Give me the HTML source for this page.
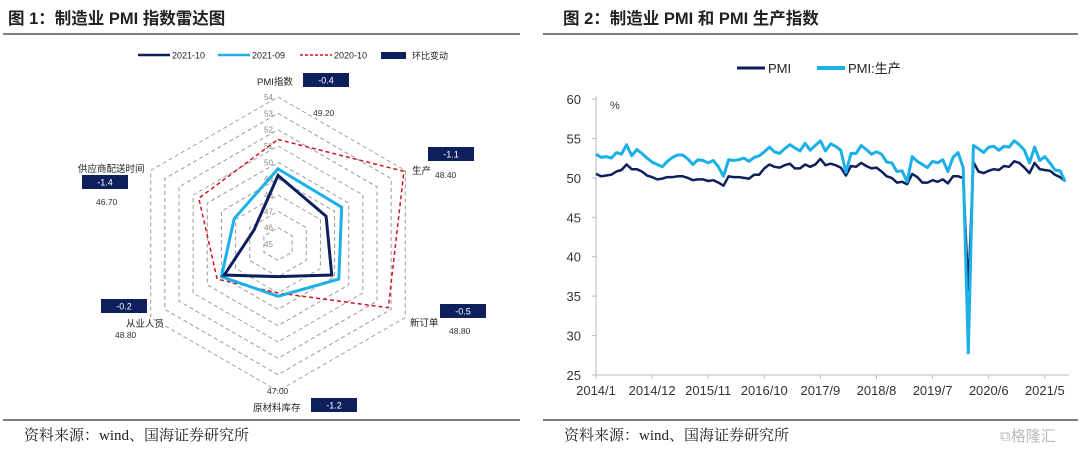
<!DOCTYPE html>
<html><head><meta charset="utf-8">
<style>
html,body{margin:0;padding:0;background:#fff;}
svg{display:block;}
text{font-family:"Liberation Sans","Noto Sans CJK SC",sans-serif;}
.ttl{font-family:"Liberation Sans","Noto Sans CJK SC",sans-serif;font-weight:bold;font-size:16.5px;fill:#222;}
.src{font-family:"Liberation Serif","Noto Serif CJK SC",serif;font-size:15px;fill:#222;}
</style></head><body>
<svg id="s" width="1080" height="450" viewBox="0 0 1080 450" xmlns="http://www.w3.org/2000/svg">
<text x="8" y="24" class="ttl">图 1：制造业 PMI 指数雷达图</text>
<text x="563" y="24" class="ttl">图 2：制造业 PMI 和 PMI 生产指数</text>
<line x1="3" y1="34" x2="520" y2="34" stroke="#333" stroke-width="1.2"/>
<line x1="543" y1="34" x2="1078" y2="34" stroke="#333" stroke-width="1.2"/>
<line x1="3" y1="420" x2="520" y2="420" stroke="#333" stroke-width="1.2"/>
<line x1="543" y1="420" x2="1078" y2="420" stroke="#333" stroke-width="1.2"/>
<text x="24" y="440" class="src">资料来源：wind、国海证券研究所</text>
<text x="564" y="440" class="src">资料来源：wind、国海证券研究所</text>
<text x="1000" y="441" font-size="15" fill="#bbb">⧉格隆汇</text>
<g id="radar"></g>
<g id="line"></g>
</svg>
<script>
// ---------- Radar data ----------
const radarAxes = ["PMI指数","生产","新订单","原材料库存","从业人员","供应商配送时间"];
const radarOct21 = [49.2,48.4,48.8,47.0,48.8,46.7];
const radarSep21 = [49.6,49.5,49.3,48.2,49.0,48.1];
const radarOct20 = [51.4,53.9,52.8,48.0,49.3,50.6];
const radarChange = ["-0.4","-1.1","-0.5","-1.2","-0.2","-1.4"];
const radarValueLabels = ["49.20","48.40","48.80","47.00","48.80","46.70"];
const radarTicks = [45,46,47,48,49,50,51,52,53,54];

// ---------- Line data ----------
const lineTicks = ["2014/1","2014/12","2015/11","2016/10","2017/9","2018/8","2019/7","2020/6","2021/5"];
const yTicks = [25,30,35,40,45,50,55,60];
const pmi = [50.5,50.2,50.3,50.4,50.8,51.0,51.7,51.1,51.1,50.8,50.3,50.1,
49.8,49.9,50.1,50.1,50.2,50.2,50.0,49.7,49.8,49.8,49.6,49.7,
49.4,49.0,50.2,50.1,50.1,50.0,49.9,50.4,50.4,51.2,51.7,51.4,
51.3,51.6,51.8,51.2,51.2,51.7,51.4,51.7,52.4,51.6,51.8,51.6,
51.3,50.3,51.5,51.4,51.9,51.5,51.2,51.3,50.8,50.2,50.0,49.4,
49.5,49.2,50.5,50.1,49.4,49.4,49.7,49.5,49.8,49.3,50.2,50.2,
50.0,35.7,52.0,50.8,50.6,50.9,51.1,51.0,51.5,51.4,52.1,51.9,
51.3,50.6,51.9,51.1,51.0,50.9,50.4,50.1,49.6];
const production = [53.0,52.6,52.7,52.5,53.2,53.0,54.2,52.8,53.6,53.1,52.5,52.0,
51.7,51.4,52.1,52.6,52.9,52.9,52.4,51.7,52.3,52.2,51.9,52.2,
51.4,50.2,52.3,52.2,52.3,52.5,52.1,52.6,52.8,53.3,53.9,53.3,
53.1,53.7,54.2,53.8,53.4,54.4,53.5,54.1,54.7,53.4,54.3,54.0,
53.5,50.7,53.1,53.1,54.1,53.6,53.0,53.3,53.0,52.0,51.9,50.8,
50.9,49.5,52.7,52.1,51.7,51.3,52.1,51.9,52.3,50.8,52.6,53.2,
51.3,27.8,54.1,53.7,53.2,53.9,54.0,53.5,54.0,53.9,54.7,54.2,
53.5,51.9,53.9,52.2,52.7,51.9,51.0,50.9,49.5];

const NS="http://www.w3.org/2000/svg";
function mk(tag,attrs,parent,txt){const e=document.createElementNS(NS,tag);for(const k in attrs)e.setAttribute(k,attrs[k]);if(txt!==undefined)e.textContent=txt;parent.appendChild(e);return e;}

// ---------- Radar ----------
const R=document.getElementById('radar');
const cx=278, cy=244, rmin=45, rmax=54, rpx=147;
function rr(v){return (v-rmin)/(rmax-rmin)*rpx;}
function ang(i){return (-90+60*i)*Math.PI/180;}
function pt(i,v){const r=rr(v);return [cx+r*Math.cos(ang(i)),cy+r*Math.sin(ang(i))];}
radarTicks.forEach(t=>{
  if(t===rmin)return;
  const p=radarAxes.map((_,i)=>pt(i,t).join(',')).join(' ');
  const g=mk('polygon',{points:p,fill:'none',stroke:'#9a9a9a','stroke-width':1,'stroke-dasharray':'4,3'},R);
  
  
});
radarTicks.forEach(t=>{
  const y=cy-rr(t);
  const tx=mk('text',{x:cx-14,y:y+3,'font-size':8,fill:'#888'},R,String(t));
  
  
});
function series(vals,color,w,dash,name){
  const p=vals.map((v,i)=>pt(i,v).join(',')).join(' ');
  const a={points:p,fill:'none',stroke:color,'stroke-width':w,'stroke-linejoin':'miter'};
  if(dash)a['stroke-dasharray']=dash;
  const e=mk('polygon',a,R);
  
  
}
series(radarOct20,'#d0161c',1.5,'4,3','series-2020-10');
series(radarSep21,'#1cb0e8',3,null,'series-2021-09');
series(radarOct21,'#0d1f5c',3,null,'series-2021-10');
const lblPos=[[257,85],[412,174],[410,326],[253,411],[126,327],[78,172]];
const boxPos=[[303,73],[428,147],[440,304],[311,398],[101,299],[82,175]];
const valPos=[[313,116],[435,178],[449,334],[267,394],[115,338],[96,205]];
radarAxes.forEach((a,i)=>{
  const t=mk('text',{x:lblPos[i][0],y:lblPos[i][1],'font-size':9.5,fill:'#222'},R,a);
  
  
  const b=mk('rect',{x:boxPos[i][0],y:boxPos[i][1],width:46,height:14,fill:'#0d1f5c'},R);
  
  
  const bt=mk('text',{x:boxPos[i][0]+23,y:boxPos[i][1]+10.5,'font-size':9,fill:'#fff','text-anchor':'middle'},R,radarChange[i]);
  
  
  const vt=mk('text',{x:valPos[i][0],y:valPos[i][1],'font-size':8.5,fill:'#333'},R,radarValueLabels[i]);
  
  
});
const lg=[[138,'#0d1f5c',null,'2021-10'],[218,'#1cb0e8',null,'2021-09'],[300,'#d0161c','3,2','2020-10']];
lg.forEach(l=>{
  const a={x1:l[0],y1:55,x2:l[0]+32,y2:55,stroke:l[1],'stroke-width':l[2]?1.5:2.5};
  if(l[2])a['stroke-dasharray']=l[2];
  const ln=mk('line',a,R);
  
  
  const t=mk('text',{x:l[0]+34,y:58.5,'font-size':9,fill:'#222'},R,l[3]);
  
  
});
const lb=mk('rect',{x:381,y:52,width:25,height:7,fill:'#0d1f5c'},R);


const lbt=mk('text',{x:412,y:59,'font-size':9,fill:'#222'},R,'环比变动');



// ---------- Line chart ----------
const L=document.getElementById('line');
const x0=596, dx=5.1, yTop=99, yBot=375, vMin=25, vMax=60;
function X(i){return x0+i*dx;}
function Y(v){return yBot-(v-vMin)/(vMax-vMin)*(yBot-yTop);}
const ax=mk('line',{x1:x0,y1:yTop-3,x2:x0,y2:yBot,stroke:'#bbb','stroke-width':1},L);


const bx=mk('line',{x1:x0,y1:yBot,x2:1069,y2:yBot,stroke:'#bbb','stroke-width':1},L);


yTicks.forEach(t=>{
  const tk=mk('line',{x1:x0-4,y1:Y(t),x2:x0,y2:Y(t),stroke:'#bbb'},L);
  
  
  const tt=mk('text',{x:x0-15,y:Y(t)+5,'font-size':13,fill:'#333','text-anchor':'end'},L,String(t));
  
  
});
lineTicks.forEach((t,k)=>{
  const x=X(k*11);
  const tk=mk('line',{x1:x,y1:yBot,x2:x,y2:yBot+4,stroke:'#bbb'},L);
  
  
  const tt=mk('text',{x:x,y:yBot+20,'font-size':13,fill:'#333','text-anchor':'middle'},L,t);
  
  
});
const pc=mk('text',{x:610,y:109,'font-size':11,fill:'#333'},L,'%');


function path(arr){return arr.map((v,i)=>(i?'L':'M')+X(i).toFixed(1)+','+Y(v).toFixed(1)).join(' ');}
const p1=mk('path',{d:path(pmi),fill:'none',stroke:'#0d1f5c','stroke-width':2.5,'stroke-linejoin':'round'},L);


const p2=mk('path',{d:path(production),fill:'none',stroke:'#1cb0e8','stroke-width':3,'stroke-linejoin':'round'},L);


const l1=mk('line',{x1:737,y1:68,x2:765,y2:68,stroke:'#0d1f5c','stroke-width':3},L);


const t1=mk('text',{x:768,y:73,'font-size':13,fill:'#222'},L,'PMI');


const l2=mk('line',{x1:817,y1:68,x2:845,y2:68,stroke:'#1cb0e8','stroke-width':4},L);


const t2=mk('text',{x:848,y:73,'font-size':13,fill:'#222'},L,'PMI:生产');


</script>
</body></html>
